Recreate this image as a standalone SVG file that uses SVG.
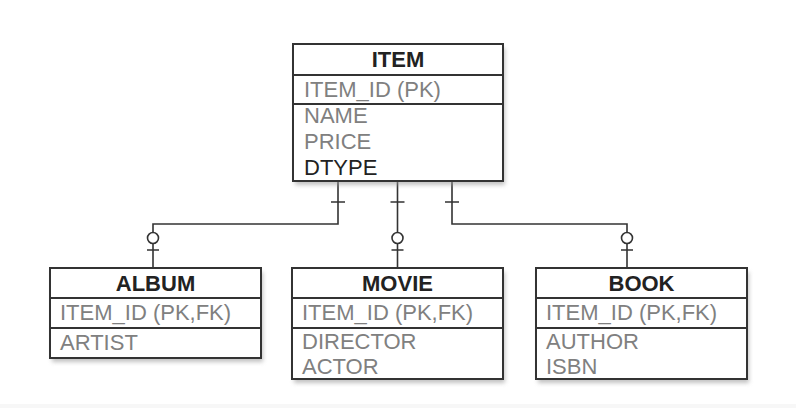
<svg xmlns="http://www.w3.org/2000/svg" width="796" height="408" viewBox="0 0 796 408">
<defs>
<filter id="sh" x="-10%" y="-10%" width="120%" height="130%">
<feGaussianBlur stdDeviation="2"/>
</filter>
</defs>
<style>
.box{fill:#fff;stroke:#333;stroke-width:2}
.shadow{fill:#999;opacity:0.6;filter:url(#sh)}
.div{stroke:#333;stroke-width:2}
.hdr{font-family:"Liberation Sans",Arial,sans-serif;font-size:22px;font-weight:bold;fill:#222;text-anchor:middle}
.fld{font-family:"Liberation Sans",Arial,sans-serif;font-size:22px;fill:#808080}
.dk{fill:#222}
.ln{stroke:#333;stroke-width:1.6;fill:none}
.circ{stroke:#333;stroke-width:1.6;fill:#fff}
</style>
<rect x="0" y="404" width="796" height="4" fill="#f7f7f7"/>
<g id="connectors">
<path class="ln" d="M338 182 V224 H153 V268"/>
<path class="ln" d="M397.5 182 V268"/>
<path class="ln" d="M452 182 V224 H627 V268"/>
<path class="ln" d="M331 202 H345 M390.5 202 H404.5 M445 202 H459"/>
<path class="ln" d="M147 250 H159 M391.5 250 H403.5 M621 250 H633"/>
<circle class="circ" cx="153" cy="238" r="5.5"/>
<circle class="circ" cx="397.5" cy="238" r="5.5"/>
<circle class="circ" cx="627" cy="238" r="5.5"/>
</g>
<g id="item">
<rect class="shadow" x="295" y="48" width="210" height="137"/>
<rect class="box" x="293" y="44" width="210" height="137"/>
<line class="div" x1="293" y1="75" x2="503" y2="75"/>
<line class="div" x1="293" y1="104" x2="503" y2="104"/>
<text class="hdr" x="398" y="67">ITEM</text>
<text class="fld" x="304" y="97">ITEM_ID (PK)</text>
<text class="fld" x="304" y="123">NAME</text>
<text class="fld" x="304" y="149">PRICE</text>
<text class="fld dk" x="304" y="175">DTYPE</text>
</g>
<g id="album">
<rect class="shadow" x="52" y="272" width="211" height="90"/>
<rect class="box" x="50" y="268" width="211" height="90"/>
<line class="div" x1="50" y1="298" x2="261" y2="298"/>
<line class="div" x1="50" y1="328" x2="261" y2="328"/>
<text class="hdr" x="155.5" y="291">ALBUM</text>
<text class="fld" x="60" y="320">ITEM_ID (PK,FK)</text>
<text class="fld" x="60" y="350">ARTIST</text>
</g>
<g id="movie">
<rect class="shadow" x="294" y="272" width="211" height="111"/>
<rect class="box" x="292" y="268" width="211" height="111"/>
<line class="div" x1="292" y1="298" x2="503" y2="298"/>
<line class="div" x1="292" y1="328" x2="503" y2="328"/>
<text class="hdr" x="397.5" y="291">MOVIE</text>
<text class="fld" x="302" y="320">ITEM_ID (PK,FK)</text>
<text class="fld" x="302" y="349">DIRECTOR</text>
<text class="fld" x="302" y="374">ACTOR</text>
</g>
<g id="book">
<rect class="shadow" x="538" y="272" width="211" height="111"/>
<rect class="box" x="536" y="268" width="211" height="111"/>
<line class="div" x1="536" y1="298" x2="747" y2="298"/>
<line class="div" x1="536" y1="328" x2="747" y2="328"/>
<text class="hdr" x="641.5" y="291">BOOK</text>
<text class="fld" x="546" y="320">ITEM_ID (PK,FK)</text>
<text class="fld" x="546" y="349">AUTHOR</text>
<text class="fld" x="546" y="374">ISBN</text>
</g>
</svg>
